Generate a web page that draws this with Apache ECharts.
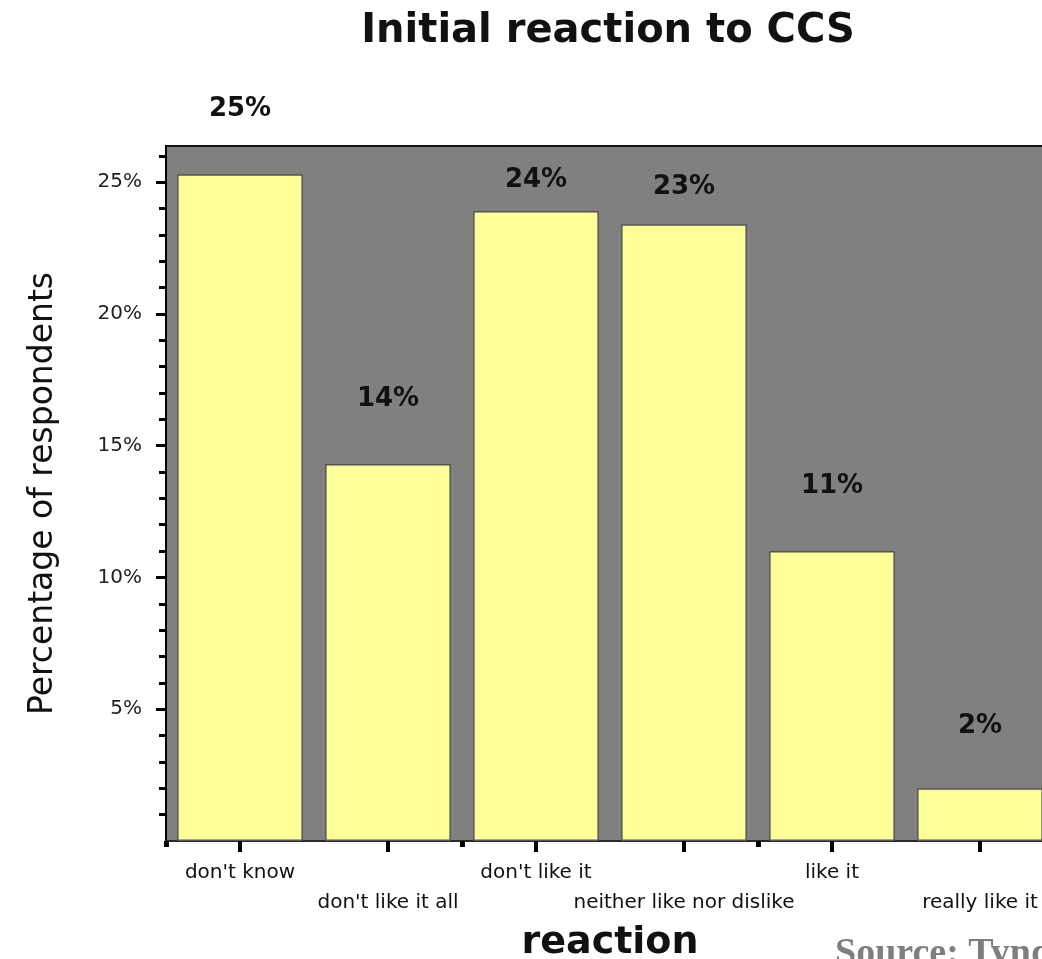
<!DOCTYPE html>
<html>
<head>
<meta charset="utf-8">
<script src="https://cdn.jsdelivr.net/npm/echarts@6/dist/echarts.min.js"></script>
<style>
html,body{margin:0;padding:0;background:#fff;}
#c{width:1042px;height:959px;}
</style>
</head>
<body>
<div id="c"></div>
<script>
const categories = ["don't know", "don't like it all", "don't like it", "neither like nor dislike", "like it", "really like it"];
const percentages = [25.3, 14.3, 23.9, 23.4, 11.0, 2.0];
const minorTickValues = [1,2,3,4,5,6,7,8,9,10,11,12,13,14,15,16,17,18,19,20,21,22,23,24,25,26];
const majorTickValues = [5, 10, 15, 20, 25];
const titleText = 'Initial reaction to CCS';
const yName = 'Percentage of respondents';
const xName = 'reaction';
const sourceText = 'Source: Tyndall Centre';

const labelGap = [52, 52, 18, 24, 52, 49];

const chart = echarts.init(document.getElementById('c'), null, {renderer: 'canvas'});
const FONT = '"DejaVu Sans", sans-serif';

const option = {
  animation: false,
  backgroundColor: '#ffffff',
  grid: {
    left: 166, top: 146, width: 888, bottom: 118,
    show: true, backgroundColor: '#808080', borderColor: '#111', borderWidth: 2,
    containLabel: false, outerBoundsMode: 'none'
  },
  graphic: [
    {type: 'text', x: 608, y: 32, style: {text: titleText, font: 'bold 40px ' + FONT, fill: '#111', align: 'center', verticalAlign: 'middle'}},
    {type: 'text', x: 835, y: 935, style: {text: sourceText, font: 'bold 38px "Liberation Serif", serif', fill: '#7f7f7f', align: 'left', verticalAlign: 'top'}}
  ],
  xAxis: [
    {
      type: 'category', data: categories, position: 'bottom',
      name: xName, nameLocation: 'middle', nameGap: 83,
      nameTextStyle: {fontFamily: FONT, fontWeight: 'bold', fontSize: 38, color: '#111'},
      axisLine: {show: true, lineStyle: {color: '#333', width: 1.5}},
      axisTick: {show: true, alignWithLabel: true, length: 11, lineStyle: {color: '#000', width: 4}},
      axisLabel: {
        interval: 0, margin: 17, fontFamily: FONT, fontSize: 20, color: '#111', lineHeight: 30,
        formatter: (v, i) => (i % 2 === 1 ? '\n' + v : v)
      },
      splitLine: {show: false}
    },
    {
      type: 'category', data: categories, position: 'bottom',
      axisLine: {show: false},
      axisTick: {show: true, alignWithLabel: false, length: 6, lineStyle: {color: '#000', width: 5}},
      axisLabel: {show: false},
      splitLine: {show: false}
    }
  ],
  yAxis: [
    {
      type: 'value', min: 0, max: 26.37, position: 'left',
      name: yName, nameLocation: 'middle', nameGap: 106, nameRotate: 90,
      nameTextStyle: {fontFamily: FONT, fontSize: 33, color: '#111'},
      axisLine: {show: true, lineStyle: {color: '#000', width: 2}},
      axisTick: {show: true, customValues: minorTickValues, length: 7, lineStyle: {color: '#000', width: 3}},
      axisLabel: {show: false},
      splitLine: {show: false}
    },
    {
      type: 'value', min: 0, max: 26.37, position: 'left',
      axisLine: {show: false},
      axisTick: {show: true, customValues: majorTickValues, length: 10, lineStyle: {color: '#000', width: 3}},
      axisLabel: {show: true, customValues: majorTickValues, margin: 24, fontFamily: FONT, fontSize: 20, color: '#222', formatter: v => v + '%'},
      splitLine: {show: false}
    }
  ],
  series: [{
    type: 'bar', xAxisIndex: 0, yAxisIndex: 0,
    barCategoryGap: '15%',
    data: percentages.map((v, i) => ({value: v, label: {distance: labelGap[i]}})),
    itemStyle: {color: '#FFFF99', borderColor: '#555', borderWidth: 1.5},
    label: {
      show: true, position: 'top', fontFamily: FONT, fontWeight: 'bold', fontSize: 26, color: '#111',
      formatter: p => Math.round(p.value) + '%'
    }
  }]
};
chart.setOption(option);
</script>
</body>
</html>
